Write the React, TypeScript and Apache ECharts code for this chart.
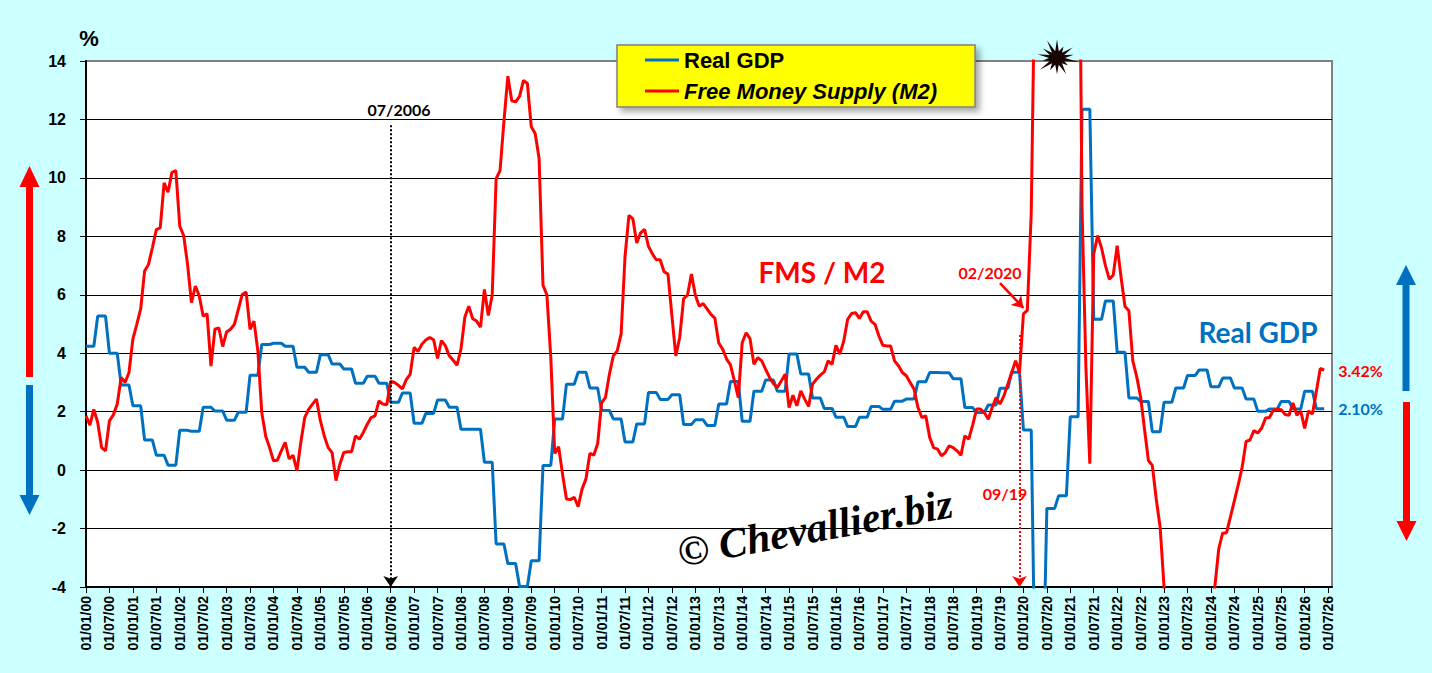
import { useEffect, useRef } from "react";
import * as echarts from "echarts";

const BLUE = "#0070C0";
const RED = "#FF0000";

// one category per month, 01/01/00 .. 01/08/26 (labels shown every 6 months)
const START_YEAR = 2000;
const MONTHS_ON_AXIS = 320;
const categories: string[] = Array.from({ length: MONTHS_ON_AXIS }, (_, i) => {
  const mm = String((i % 12) + 1).padStart(2, "0");
  const yy = String((START_YEAR + Math.floor(i / 12)) % 100).padStart(2, "0");
  return `01/${mm}/${yy}`;
});

const yMin = -4;
const yMax = 14;
const yStep = 2;

// Real GDP, y/y %, one value per quarter (Q1 2000 .. Q2 2026)
const gdpQuarterly = [
  4.24, 5.27, 4.0, 2.91, // 2000
  2.2, 1.03, 0.51, 0.17, // 2001
  1.36, 1.33, 2.15, 2.02, // 2002
  1.71, 1.98, 3.25, 4.3, // 2003
  4.34, 4.24, 3.52, 3.35, // 2004
  3.95, 3.63, 3.46, 2.97, // 2005
  3.21, 2.97, 2.32, 2.64, // 2006
  1.6, 1.94, 2.4, 2.15, // 2007
  1.4, 1.4, 0.27, -2.53, // 2008
  -3.2, -3.98, -3.1, 0.16, // 2009
  1.75, 2.94, 3.35, 2.81, // 2010
  2.04, 1.75, 0.96, 1.58, // 2011
  2.66, 2.42, 2.58, 1.56, // 2012
  1.72, 1.53, 2.26, 3.03, // 2013
  1.67, 2.7, 3.08, 2.7, // 2014
  3.97, 3.29, 2.47, 2.11, // 2015
  1.81, 1.49, 1.81, 2.18, // 2016
  2.08, 2.36, 2.43, 3.02, // 2017
  3.34, 3.33, 3.13, 2.14, // 2018
  1.97, 2.23, 2.8, 3.35, // 2019
  1.37, -7.5, -1.31, -0.88, // 2020
  1.83, 12.35, 5.16, 5.79, // 2021
  4.03, 2.47, 2.35, 1.31, // 2022
  2.32, 2.81, 3.24, 3.43, // 2023
  2.85, 3.15, 2.81, 2.43, // 2024
  2.01, 2.09, 2.35, 2.09, // 2025
  2.7, 2.1, // 2026
];

// Free Money Supply (M2), y/y %, monthly (Jan 2000 .. Jun 2026)
const fmsMonthly = [
  1.86, 1.54, 2.08, 1.63, 0.77, 0.66, 1.69, 1.89, 2.26, 3.17, 3.0, 3.34, // 2000
  4.48, 4.99, 5.52, 6.81, 7.04, 7.61, 8.23, 8.29, 9.83, 9.51, 10.19, 10.25, // 2001
  8.35, 8.03, 7.04, 5.73, 6.3, 5.96, 5.27, 5.35, 3.56, 4.82, 4.87, 4.23, // 2002
  4.73, 4.82, 4.99, 5.5, 6.01, 6.09, 4.82, 5.1, 4.08, 1.97, 1.17, 0.77, // 2003
  0.32, 0.34, 0.66, 0.95, 0.38, 0.51, -0.02, 0.95, 1.8, 2.08, 2.26, 2.43, // 2004
  1.69, 1.17, 0.77, 0.6, -0.36, 0.2, 0.6, 0.63, 0.63, 1.17, 1.06, 1.29, // 2005
  1.57, 1.8, 1.86, 2.37, 2.26, 2.24, 3.04, 3.0, 2.9, 2.78, 3.1, 3.28, // 2006
  4.2, 4.06, 4.31, 4.45, 4.54, 4.46, 3.82, 4.43, 4.26, 3.91, 3.76, 3.59, // 2007
  4.14, 5.24, 5.61, 5.18, 5.1, 4.89, 6.18, 5.29, 5.99, 9.97, 10.25, 11.93, // 2008
  13.48, 12.64, 12.6, 12.79, 13.34, 13.23, 11.75, 11.52, 10.66, 6.33, 5.99, 3.85, // 2009
  0.57, 0.8, -0.13, -0.99, -1.01, -0.93, -1.25, -0.65, -0.3, 0.57, 0.51, 0.91, // 2010
  2.3, 2.49, 3.28, 3.91, 4.08, 4.66, 7.31, 8.72, 8.6, 7.77, 8.12, 8.24, // 2011
  7.66, 7.4, 7.2, 7.2, 6.79, 6.71, 5.29, 3.91, 4.54, 5.87, 5.99, 6.71, // 2012
  5.99, 5.61, 5.7, 5.52, 5.33, 5.2, 4.35, 4.14, 3.8, 3.6, 3.05, 2.48, // 2013
  4.36, 4.7, 4.5, 3.62, 3.85, 3.74, 3.45, 3.17, 2.96, 2.83, 3.05, 3.28, // 2014
  2.14, 2.56, 2.2, 2.71, 2.43, 2.18, 2.94, 3.11, 3.25, 3.36, 3.74, 3.62, // 2015
  4.27, 3.97, 4.42, 5.16, 5.36, 5.39, 5.19, 5.42, 5.42, 5.1, 4.99, 4.59, // 2016
  4.27, 4.25, 4.25, 3.74, 3.57, 3.34, 3.23, 3.0, 2.77, 2.14, 1.8, 1.86, // 2017
  1.12, 0.77, 0.72, 0.49, 0.6, 0.83, 0.77, 0.66, 0.51, 1.17, 1.06, 1.54, // 2018
  2.09, 2.09, 1.97, 1.74, 2.14, 2.48, 2.26, 2.54, 2.94, 3.34, 3.74, 3.34, // 2019
  5.35, 5.47, 8.8, 18, 22, 23, 23.5, 24, 24.5, 25, 25.5, 26, // 2020
  27, 26, 24, 9, 3.5, 0.22, 7.4, 8.03, 7.6, 7.0, 6.53, 6.68, // 2021
  7.68, 6.6, 5.6, 5.45, 3.74, 3.2, 2.5, 1.4, 0.33, 0.16, -0.99, -1.95, // 2022
  -4.0, -5.2, -6.0, -6.5, -6.8, -7.0, -7.0, -6.8, -6.5, -6.2, -5.8, -5.3, // 2023
  -4.7, -4.0, -2.7, -2.16, -2.14, -1.6, -1.05, -0.5, 0.1, 0.98, 1.03, 1.35, // 2024
  1.27, 1.44, 1.78, 1.8, 2.05, 2.08, 2.07, 1.9, 1.88, 2.3, 1.88, 2.02, // 2025
  1.43, 2.03, 1.92, 2.7, 3.48, 3.42, // 2026
];

const gdpMonthly = gdpQuarterly.flatMap((v) => [v, v, v]);

const every6 = (i: number) => i % 6 === 0;

// decorative "explosion" star at the top of the 2020 spike
const starRadii = [22, 15, 20, 17, 23, 14, 21, 19, 16, 22, 15, 20, 18, 23];
function starPoints(cx: number, cy: number) {
  const pts: number[][] = [];
  const n = starRadii.length;
  for (let i = 0; i < n * 2; i++) {
    const a = (i * Math.PI) / n - Math.PI / 2;
    const r = i % 2 === 0 ? starRadii[i / 2] : 8;
    pts.push([cx + Math.cos(a) * r, cy + Math.sin(a) * r * 0.85]);
  }
  return pts;
}

function arrow(cx: number, tipY: number, headY: number, tailY: number, color: string) {
  const top = Math.min(headY, tailY);
  return [
    { type: "rect", shape: { x: cx - 3.5, y: top, width: 7, height: Math.abs(tailY - headY) }, style: { fill: color } },
    { type: "polygon", shape: { points: [[cx - 10, headY], [cx + 10, headY], [cx, tipY]] }, style: { fill: color } },
  ];
}

const txt = (x: number, y: number, text: string, fill: string, font: string, extra = {}) => ({
  type: "text",
  x,
  y,
  z: 100,
  style: { text, fill, font, textAlign: "center", textVerticalAlign: "middle" },
  ...extra,
});

export default function App() {
  const ref = useRef<HTMLDivElement>(null);

  useEffect(() => {
    if (!ref.current) return;
    const chart = echarts.init(ref.current, undefined, { renderer: "svg" });
    const lastGdp = gdpMonthly[gdpMonthly.length - 1];
    const lastFms = fmsMonthly[fmsMonthly.length - 1];

    chart.setOption({
      animation: false,
      backgroundColor: "#CCFFFF",
      grid: {
        left: 86,
        right: 100,
        top: 61,
        bottom: 86,
        show: true,
        backgroundColor: "#FFFFFF",
        borderColor: "#808080",
        borderWidth: 2,
      },
      legend: {
        left: 617,
        top: 45,
        orient: "vertical",
        selectedMode: false,
        backgroundColor: "#FFFF00",
        borderColor: "#808080",
        borderWidth: 1.5,
        padding: [4, 38, 5, 28],
        itemGap: 9,
        itemWidth: 34,
        itemHeight: 3,
        icon: "rect",
        shadowBlur: 6,
        shadowColor: "rgba(0,0,0,0.35)",
        shadowOffsetX: 4,
        shadowOffsetY: 4,
        textStyle: { fontFamily: "Liberation Sans", fontWeight: "bold", fontSize: 22, color: "#000" },
        data: [
          { name: "Real GDP" },
          { name: "Free Money Supply (M2)", textStyle: { fontStyle: "italic" } },
        ],
      },
      xAxis: {
        type: "category",
        data: categories,
        boundaryGap: false,
        axisLine: { onZero: false, lineStyle: { color: "#000", width: 2 } },
        axisTick: { interval: every6, length: 6, lineStyle: { color: "#000" } },
        axisLabel: {
          interval: every6,
          rotate: 90,
          margin: 9,
          color: "#000",
          fontFamily: "Liberation Sans",
          fontWeight: "bold",
          fontSize: 14,
        },
        splitLine: { show: false },
      },
      yAxis: {
        type: "value",
        min: yMin,
        max: yMax,
        interval: yStep,
        axisLine: { show: true, lineStyle: { color: "#000", width: 2 } },
        axisTick: { show: true, length: 6, lineStyle: { color: "#000" } },
        axisLabel: { margin: 20, color: "#000", fontFamily: "Liberation Sans", fontWeight: "bold", fontSize: 16 },
        splitLine: { show: true, showMinLine: false, showMaxLine: false, lineStyle: { color: "#000", width: 1 } },
      },
      series: [
        {
          name: "Real GDP",
          type: "line",
          data: gdpMonthly,
          color: BLUE,
          symbol: "none",
          showSymbol: false,
          lineStyle: { width: 3, color: BLUE },
          endLabel: {
            show: true,
            formatter: () => `${lastGdp.toFixed(2)}%`,
            color: BLUE,
            fontFamily: "Lato",
            fontWeight: "bold",
            fontSize: 16,
            distance: 14,
          },
          markLine: {
            silent: true,
            animation: false,
            symbol: ["none", "arrow"],
            symbolSize: 11,
            label: { show: false },
            emphasis: { disabled: true },
            data: [
              [
                { coord: ["01/07/06", 11.8], lineStyle: { color: "#000", type: "dotted", width: 2 }, itemStyle: { color: "#000" } },
                { coord: ["01/07/06", yMin] },
              ],
            ],
          },
        },
        {
          name: "Free Money Supply (M2)",
          type: "line",
          data: fmsMonthly,
          color: RED,
          symbol: "none",
          showSymbol: false,
          lineStyle: { width: 3, color: RED },
          endLabel: {
            show: true,
            formatter: () => `${lastFms.toFixed(2)}%`,
            color: RED,
            fontFamily: "Lato",
            fontWeight: "bold",
            fontSize: 16,
            distance: 14,
          },
          markLine: {
            silent: true,
            animation: false,
            symbol: ["none", "arrow"],
            symbolSize: 11,
            label: { show: false },
            emphasis: { disabled: true },
            data: [
              [
                { coord: ["01/12/19", 4.62], lineStyle: { color: RED, type: "dotted", width: 2 }, itemStyle: { color: RED } },
                { coord: ["01/12/19", yMin] },
              ],
              [
                { coord: ["01/07/19", 6.4], lineStyle: { color: RED, type: "solid", width: 2.5 }, itemStyle: { color: RED } },
                { coord: ["01/01/20", 5.55] },
              ],
            ],
          },
        },
      ],
      graphic: [
        txt(89, 38, "%", "#000", "bold 22px 'Liberation Sans'"),
        txt(399, 109, "07/2006", "#000", "bold 16px Lato"),
        txt(822, 272, "FMS / M2", RED, "bold 28px Lato"),
        txt(1258, 332, "Real GDP", BLUE, "bold 28px Lato"),
        txt(990, 272, "02/2020", RED, "bold 16px Lato"),
        txt(1005, 493, "09/19", RED, "bold 16px Lato"),
        txt(815, 528, "\u00A9 Chevallier.biz", "#000", "italic bold 42px 'Liberation Serif'", { rotation: 0.18 }),
        { type: "polygon", z: 100, shape: { points: starPoints(1057, 58) }, style: { fill: "#1a0505" } },
        ...arrow(29.5, 166, 187, 377, RED),
        ...arrow(29.5, 515, 495, 385, BLUE),
        ...arrow(1406, 265, 285, 391, BLUE),
        ...arrow(1406.5, 541, 521, 402, RED),
      ],
    });

    return () => chart.dispose();
  }, []);

  return (
    <div
      ref={ref}
      style={{ position: "absolute", left: 0, top: 0, width: 1432, height: 673, background: "#CCFFFF" }}
    />
  );
}
